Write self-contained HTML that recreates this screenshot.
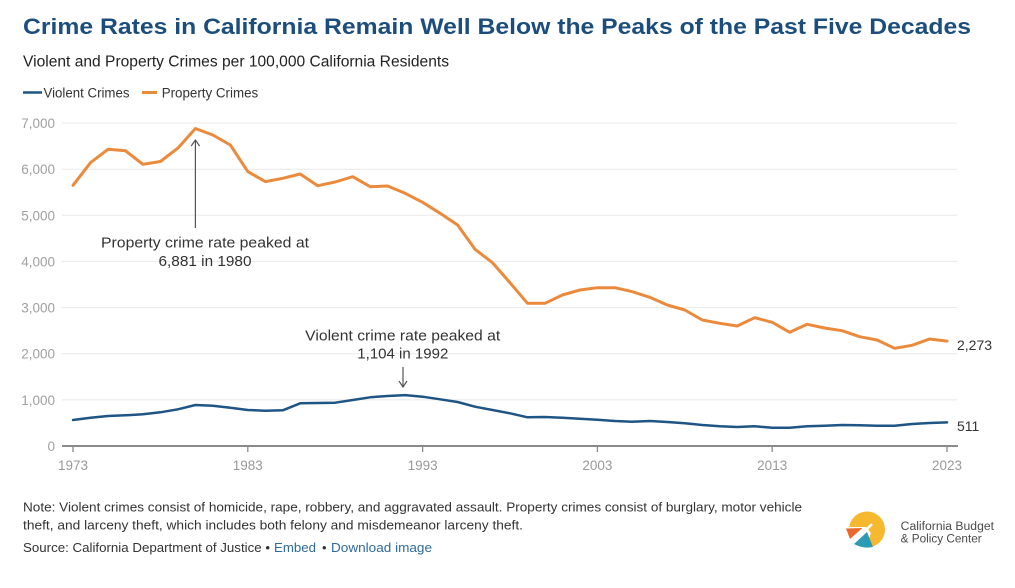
<!DOCTYPE html>
<html>
<head>
<meta charset="utf-8">
<style>
  html,body{margin:0;padding:0;background:#fff;}
  svg{display:block;}
  text{font-family:"Liberation Sans",Arial,sans-serif;}
</style>
</head>
<body>
<svg width="1015" height="588" viewBox="0 0 1015 588" xmlns="http://www.w3.org/2000/svg">
  <rect width="1015" height="588" fill="#fff"/>

  <!-- Title -->
  <text x="23" y="34" font-size="22" font-weight="bold" fill="#1b4e7c" textLength="948" lengthAdjust="spacingAndGlyphs">Crime Rates in California Remain Well Below the Peaks of the Past Five Decades</text>
  <!-- Subtitle -->
  <text x="23" y="66.5" font-size="15.5" fill="#222" textLength="426" lengthAdjust="spacingAndGlyphs">Violent and Property Crimes per 100,000 California Residents</text>

  <!-- Legend -->
  <line x1="23" y1="92.5" x2="42" y2="92.5" stroke="#1f5585" stroke-width="2.5"/>
  <text x="43.5" y="97.3" font-size="13.5" fill="#333" textLength="86" lengthAdjust="spacingAndGlyphs">Violent Crimes</text>
  <line x1="142" y1="92.5" x2="157" y2="92.5" stroke="#ec8a3c" stroke-width="3"/>
  <text x="161.7" y="97.3" font-size="13.5" fill="#333" textLength="96.5" lengthAdjust="spacingAndGlyphs">Property Crimes</text>

  <!-- Gridlines -->
  <g stroke="#e8e8e8" stroke-width="1">
    <line x1="62" y1="123" x2="957" y2="123"/>
    <line x1="62" y1="169.2" x2="957" y2="169.2"/>
    <line x1="62" y1="215.3" x2="957" y2="215.3"/>
    <line x1="62" y1="261.4" x2="957" y2="261.4"/>
    <line x1="62" y1="307.6" x2="957" y2="307.6"/>
    <line x1="62" y1="353.7" x2="957" y2="353.7"/>
    <line x1="62" y1="399.9" x2="957" y2="399.9"/>
  </g>

  <!-- Y labels -->
  <g font-size="13.5" fill="#a0a0a0" text-anchor="end">
    <text x="55" y="128">7,000</text>
    <text x="55" y="174.2">6,000</text>
    <text x="55" y="220.3">5,000</text>
    <text x="55" y="266.4">4,000</text>
    <text x="55" y="312.6">3,000</text>
    <text x="55" y="358.7">2,000</text>
    <text x="55" y="404.9">1,000</text>
    <text x="55" y="451">0</text>
  </g>

  <!-- Axis -->
  <line x1="62" y1="446" x2="958" y2="446" stroke="#8a8a8a" stroke-width="2"/>
  <g stroke="#8a8a8a" stroke-width="1.3">
    <line x1="73" y1="446" x2="73" y2="452"/>
    <line x1="247.8" y1="446" x2="247.8" y2="452"/>
    <line x1="422.6" y1="446" x2="422.6" y2="452"/>
    <line x1="597.4" y1="446" x2="597.4" y2="452"/>
    <line x1="772.2" y1="446" x2="772.2" y2="452"/>
    <line x1="947" y1="446" x2="947" y2="452"/>
  </g>
  <g font-size="13.5" fill="#999" text-anchor="middle">
    <text x="73" y="470">1973</text>
    <text x="247.8" y="470">1983</text>
    <text x="422.6" y="470">1993</text>
    <text x="597.4" y="470">2003</text>
    <text x="772.2" y="470">2013</text>
    <text x="947" y="470">2023</text>
  </g>

  <!-- Property crimes -->
  <polyline fill="none" stroke="#ec8a3c" stroke-width="3" stroke-linejoin="round" stroke-linecap="round"
    points="73,185.3 90.5,162.7 108,149.3 125.4,150.7 142.9,164.3 160.4,161.5 177.9,148.1 195.4,128.5 212.8,135 230.3,145 247.8,171.6 265.3,181.6 282.8,178.3 300.2,174 317.7,185.7 335.2,182 352.7,176.7 370.2,186.7 387.6,186 405.1,193.3 422.6,202.3 440.1,213.3 457.6,225 475,249.3 492.5,262.7 510,282.7 527.5,303.3 545,303.3 562.4,295 579.9,290 597.4,287.7 614.9,287.7 632.4,291.7 649.8,297.3 667.3,305 684.8,310 702.3,320 719.8,323.3 737.2,326 754.7,317.7 772.2,322.3 789.7,332.3 807.2,324.3 824.6,328 842.1,330.7 859.6,336.7 877.1,340 894.6,348.3 912,345.3 929.5,339 947,341.1"/>

  <!-- Violent crimes -->
  <polyline fill="none" stroke="#1f5585" stroke-width="2.5" stroke-linejoin="round" stroke-linecap="round"
    points="73,420 90.5,417.7 108,416 125.4,415.3 142.9,414.3 160.4,412.3 177.9,409.3 195.4,405 212.8,405.7 230.3,407.7 247.8,410 265.3,410.7 282.8,410.3 300.2,403.3 317.7,403 335.2,402.7 352.7,400 370.2,397.3 387.6,396 405.1,395.1 422.6,396.7 440.1,399.3 457.6,402 475,406.7 492.5,410 510,413.3 527.5,417.3 545,417 562.4,417.7 579.9,418.7 597.4,419.7 614.9,421 632.4,421.7 649.8,421 667.3,422 684.8,423.3 702.3,425 719.8,426.3 737.2,427 754.7,426.3 772.2,427.7 789.7,427.7 807.2,426.3 824.6,425.7 842.1,425 859.6,425.3 877.1,425.7 894.6,425.7 912,424 929.5,423 947,422.4"/>

  <!-- End labels -->
  <text x="957" y="350" font-size="14" fill="#333">2,273</text>
  <text x="957" y="431" font-size="14" fill="#333">511</text>

  <!-- Property annotation -->
  <line x1="195.4" y1="141" x2="195.4" y2="228" stroke="#555" stroke-width="1.2"/>
  <polyline points="191.2,146 195.4,140 199.6,146" fill="none" stroke="#555" stroke-width="1.2"/>
  <text x="205" y="247.7" font-size="15" fill="#333" text-anchor="middle" textLength="208" lengthAdjust="spacingAndGlyphs">Property crime rate peaked at</text>
  <text x="205" y="266" font-size="15" fill="#333" text-anchor="middle" textLength="93" lengthAdjust="spacingAndGlyphs">6,881 in 1980</text>

  <!-- Violent annotation -->
  <text x="402.7" y="340.7" font-size="15" fill="#333" text-anchor="middle" textLength="195" lengthAdjust="spacingAndGlyphs">Violent crime rate peaked at</text>
  <text x="402.8" y="358.3" font-size="15" fill="#333" text-anchor="middle" textLength="91" lengthAdjust="spacingAndGlyphs">1,104 in 1992</text>
  <line x1="403" y1="367" x2="403" y2="386" stroke="#555" stroke-width="1.2"/>
  <polyline points="399,381 403,387 407,381" fill="none" stroke="#555" stroke-width="1.2"/>

  <!-- Footer notes -->
  <text x="23" y="511.5" font-size="13" fill="#333" textLength="779" lengthAdjust="spacingAndGlyphs">Note: Violent crimes consist of homicide, rape, robbery, and aggravated assault. Property crimes consist of burglary, motor vehicle</text>
  <text x="23" y="529.5" font-size="13" fill="#333" textLength="500" lengthAdjust="spacingAndGlyphs">theft, and larceny theft, which includes both felony and misdemeanor larceny theft.</text>
  <text x="23" y="552" font-size="13" fill="#333" textLength="247" lengthAdjust="spacingAndGlyphs">Source: California Department of Justice •</text>
  <text x="274" y="552" font-size="13" fill="#2f6a9c" textLength="42" lengthAdjust="spacingAndGlyphs">Embed</text>
  <text x="322" y="552" font-size="13" fill="#333">•</text>
  <text x="331" y="552" font-size="13" fill="#2f6a9c" textLength="101" lengthAdjust="spacingAndGlyphs">Download image</text>

  <!-- Logo -->
  <g>
    <circle cx="867" cy="529.5" r="18" fill="#f5b82e"/>
    <polygon points="844,527 866,527 871,533 864,552 844,552" fill="#fff"/>
    <polygon points="846,528.5 862.5,528 850,539" fill="#e8692b"/>
    <path d="M854,544 L867,532 L873,547 Q863,549 854,544 Z" fill="#2b9bb3"/>
    <line x1="851" y1="545" x2="872" y2="524" stroke="#fff" stroke-width="2.5"/>
  </g>
  <text x="900.7" y="530" font-size="11.5" fill="#4a4a4a" textLength="93.3" lengthAdjust="spacingAndGlyphs">California Budget</text>
  <text x="900.7" y="542.3" font-size="11.5" fill="#4a4a4a" textLength="81" lengthAdjust="spacingAndGlyphs">&amp; Policy Center</text>
</svg>
</body>
</html>
